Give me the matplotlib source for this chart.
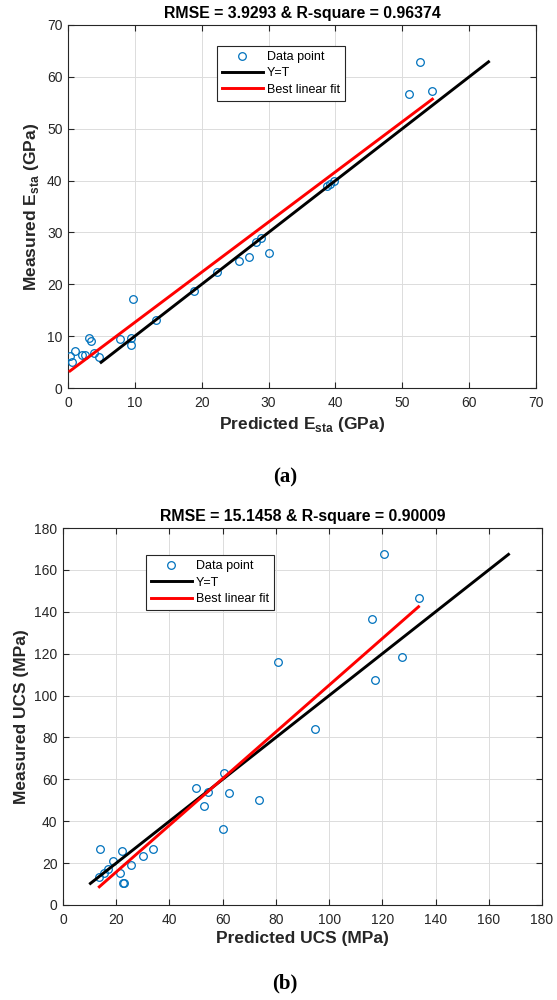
"""Predicted vs measured scatter plots for E_sta and UCS, two stacked panels."""

import matplotlib
matplotlib.use("Agg")
import matplotlib.pyplot as plt

plt.rcParams["font.family"] = ["Liberation Sans", "DejaVu Sans"]
plt.rcParams["mathtext.fontset"] = "custom"
plt.rcParams["mathtext.rm"] = "Liberation Sans"
plt.rcParams["mathtext.bf"] = "Liberation Sans:bold"

# panel (a): static Young's modulus (GPa)
esta_pred = [0.3, 0.65, 1.0, 2.15, 2.55, 3.14, 3.39, 3.9, 4.64, 7.8, 9.37, 9.47, 9.72,
             13.1, 18.85, 22.3, 25.6, 27.0, 28.07, 28.9, 30.1, 38.8, 39.2, 39.8,
             51.05, 52.7, 54.5]
esta_meas = [6.2, 4.95, 7.2, 6.4, 6.3, 9.7, 9.0, 6.8, 6.0, 9.45, 9.6, 8.2, 17.1,
             13.2, 18.7, 22.4, 24.5, 25.3, 28.15, 29.0, 26.1, 39.0, 39.3, 40.0,
             56.6, 62.9, 57.3]
esta_yt = [4.95, 62.9]
esta_fit_x = [0.3, 54.5]
esta_fit_y = [3.28, 55.7]
esta_title = "RMSE = 3.9293 & R-square = 0.96374"

# panel (b): uniaxial compressive strength (MPa)
ucs_pred = [13.9, 13.65, 15.4, 17.0, 18.7, 22.3, 21.3, 22.5, 23.0, 25.6, 29.9, 33.9,
            49.9, 53.1, 54.6, 60.2, 60.6, 62.3, 73.7, 80.9, 94.7, 116.1, 117.4,
            120.5, 127.4, 133.6]
ucs_meas = [26.7, 13.2, 15.1, 17.2, 21.1, 25.8, 15.1, 10.3, 10.3, 19.1, 23.4, 26.9,
            56.1, 47.2, 53.9, 36.1, 63.1, 53.5, 50.2, 115.8, 84.2, 136.6, 107.4,
            167.4, 118.5, 146.4]
ucs_yt = [10.3, 167.4]
ucs_fit_x = [13.65, 133.6]
ucs_fit_y = [8.7, 142.4]
ucs_title = "RMSE = 15.1458 & R-square = 0.90009"

AX_COLOR = "#262626"
DOT_COLOR = "#0072BD"


def style_axis(ax, xmax, ymax, step):
    ax.set_xlim(0, xmax)
    ax.set_ylim(0, ymax)
    ax.set_xticks(range(0, xmax + 1, step))
    ax.set_yticks(range(0, ymax + 1, step))
    ax.grid(True, color="#dcdcdc", linewidth=0.7)
    ax.set_axisbelow(True)
    ax.tick_params(direction="in", top=True, right=True, length=4, width=0.8,
                   labelsize=10, colors=AX_COLOR, labelcolor=AX_COLOR)
    ax.tick_params(axis="x", pad=6)
    ax.tick_params(axis="y", pad=4)
    for sp in ax.spines.values():
        sp.set_color(AX_COLOR)
        sp.set_linewidth(0.8)


def draw_panel(ax, pred, meas, yt, fit_x, fit_y, title, anchor):
    ax.plot(pred, meas, "o", markerfacecolor="none", markeredgecolor=DOT_COLOR,
            markersize=5.5, markeredgewidth=0.9, label="Data point", zorder=3)
    ax.plot(yt, yt, color="black", linewidth=2.1, label="Y=T", zorder=4)
    ax.plot(fit_x, fit_y, color="#ff0000", linewidth=2.1, label="Best linear fit", zorder=4)
    ax.set_title(title, fontsize=11.4, fontweight="bold", pad=5)
    leg = ax.legend(loc="upper left", bbox_to_anchor=anchor, borderaxespad=0,
                    fontsize=9, handlelength=3.3, handletextpad=0.3, fancybox=False,
                    framealpha=1, edgecolor=AX_COLOR, borderpad=0.4, labelspacing=0.35)
    leg.get_frame().set_linewidth(0.8)


fig = plt.figure(figsize=(5.57, 10), dpi=100)

ax1 = fig.add_axes([0.1221, 0.612, 0.8402, 0.363])
style_axis(ax1, 70, 70, 10)
draw_panel(ax1, esta_pred, esta_meas, esta_yt, esta_fit_x, esta_fit_y, esta_title, (0.318, 0.942))
ax1.set_xlabel(r"Predicted E$_{\mathbf{sta}}$ (GPa)", fontsize=12.5, fontweight="bold",
               color=AX_COLOR, labelpad=3)
ax1.set_ylabel(r"Measured E$_{\mathbf{sta}}$ (GPa)", fontsize=12.5, fontweight="bold",
               color=AX_COLOR, labelpad=4)

ax2 = fig.add_axes([0.1131, 0.095, 0.860, 0.377])
style_axis(ax2, 180, 180, 20)
draw_panel(ax2, ucs_pred, ucs_meas, ucs_yt, ucs_fit_x, ucs_fit_y, ucs_title, (0.173, 0.928))
ax2.set_xlabel("Predicted UCS (MPa)", fontsize=12.5, fontweight="bold", color=AX_COLOR,
               labelpad=3)
ax2.set_ylabel("Measured UCS (MPa)", fontsize=12.5, fontweight="bold", color=AX_COLOR,
               labelpad=4)

fig.text(0.512, 0.523, "(a)", ha="center", va="center", fontsize=15, fontweight="bold",
         family="Liberation Serif")
fig.text(0.512, 0.017, "(b)", ha="center", va="center", fontsize=15, fontweight="bold",
         family="Liberation Serif")

fig.savefig("out.png", dpi=100)
